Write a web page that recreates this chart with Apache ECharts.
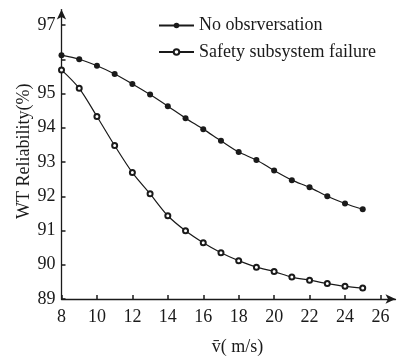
<!DOCTYPE html>
<html>
<head>
<meta charset="utf-8">
<script src="https://cdn.jsdelivr.net/npm/echarts@6/dist/echarts.min.js"></script>
<style>
  html, body { margin: 0; padding: 0; background: #fff; }
</style>
</head>
<body>
<div id="main" style="width:398px;height:356px;"></div>
<script>
// mean wind speed (m/s)
var speeds = [8, 9, 10, 11, 12, 13, 14, 15, 16, 17, 18, 19, 20, 21, 22, 23, 24, 25];
// WT reliability (%)
var noObservation = [96.12, 96.0, 95.81, 95.57, 95.28, 94.97, 94.63, 94.28, 93.96, 93.62, 93.29, 93.06, 92.75, 92.47, 92.26, 92.0, 91.79, 91.62];
var safetyFailure = [95.69, 95.15, 94.33, 93.48, 92.69, 92.07, 91.43, 90.99, 90.64, 90.35, 90.12, 89.93, 89.80, 89.64, 89.55, 89.45, 89.37, 89.32];
var xTicks = [8, 10, 12, 14, 16, 18, 20, 22, 24, 26];
var yTicks = [89, 90, 91, 92, 93, 94, 95, 96, 97];
var yLabels = [89, 90, 91, 92, 93, 94, 95, 97];
var seriesNames = ['No obsrversation', 'Safety subsystem failure'];

function pairs(xs, ys) {
  return xs.map(function (x, i) { return [x, ys[i]]; });
}

var font = 'Liberation Serif';
var ink = '#1a1a1a';

var myChart = echarts.init(document.getElementById('main'));

var option = {
  animation: false,
  textStyle: { fontFamily: font },
  grid: { left: 61.5, right: 2.5, top: 9.6, bottom: 57, outerBoundsMode: 'none', containLabel: false },
  legend: {
    orient: 'vertical',
    left: 158,
    top: 16.5,
    padding: 0,
    itemWidth: 35,
    itemHeight: 7,
    itemGap: 8.5,
    textStyle: { fontFamily: font, fontSize: 18, color: ink },
    data: seriesNames
  },
  xAxis: {
    type: 'value',
    min: 8,
    max: 26.85,
    name: 'v\u0304( m/s)',
    nameLocation: 'middle',
    nameGap: 39,
    nameMoveOverlap: false,
    nameTextStyle: { fontFamily: font, fontSize: 18, color: ink, padding: [0, 0, 0, 18] },
    axisLine: { lineStyle: { color: ink, width: 1.3 }, symbol: ['none', 'arrow'], symbolSize: [7, 10] },
    axisTick: { inside: true, length: 4, lineStyle: { color: ink, width: 1.5 }, customValues: xTicks },
    axisLabel: { fontFamily: font, fontSize: 18, color: ink, margin: 9, customValues: xTicks },
    splitLine: { show: false }
  },
  yAxis: {
    type: 'value',
    min: 89,
    max: 97.45,
    name: 'WT Reliability(%)',
    nameLocation: 'middle',
    nameRotate: 90,
    nameGap: 28,
    nameMoveOverlap: false,
    nameTextStyle: { fontFamily: font, fontSize: 18, color: ink, padding: [0, 0, 0, 6] },
    axisLine: { lineStyle: { color: ink, width: 1.3 }, symbol: ['none', 'arrow'], symbolSize: [7, 10] },
    axisTick: { inside: true, length: 4, lineStyle: { color: ink, width: 1.5 }, customValues: yTicks },
    axisLabel: { fontFamily: font, fontSize: 18, color: ink, margin: 6, customValues: yLabels },
    splitLine: { show: false }
  },
  series: [
    {
      name: seriesNames[0],
      type: 'line',
      smooth: 0.3,
      symbol: 'circle',
      symbolSize: 6,
      itemStyle: { color: ink },
      lineStyle: { color: ink, width: 1.2 },
      data: pairs(speeds, noObservation)
    },
    {
      name: seriesNames[1],
      type: 'line',
      smooth: 0.3,
      symbol: 'emptyCircle',
      symbolSize: 5,
      itemStyle: { color: ink, borderWidth: 1.2 },
      lineStyle: { color: ink, width: 1.2 },
      data: pairs(speeds, safetyFailure)
    }
  ]
};

myChart.setOption(option);
</script>
</body>
</html>
